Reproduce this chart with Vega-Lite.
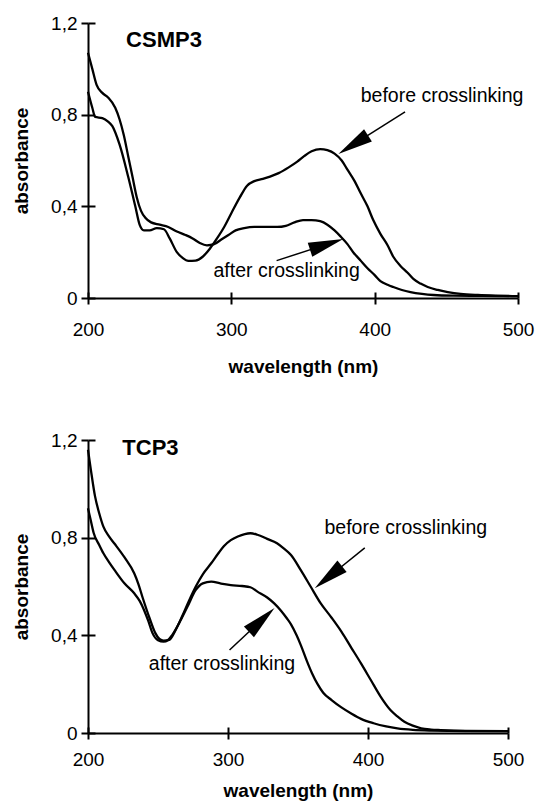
{
  "$schema": "https://vega.github.io/schema/vega-lite/v6.json",
  "padding": {"left": 12, "top": 14, "right": 2, "bottom": 5},
  "config": {
    "view": {"stroke": null},
    "font": "Liberation Sans",
    "axis": {"grid": false, "domainColor": "black", "tickColor": "black", "labelColor": "black", "titleColor": "black", "labelFont": "Liberation Sans", "titleFont": "Liberation Sans", "labelFontSize": 19, "titleFontSize": 19, "titleFontWeight": "bold", "domainWidth": 2, "tickWidth": 2, "labelFlush": false, "labelOverlap": false}
  },
  "spacing": 55,
  "datasets": {
    "curves": [
      {"p":"CSMP3","s":"before","nm":200,"a":0.90},{"p":"CSMP3","s":"before","nm":203,"a":0.83},{"p":"CSMP3","s":"before","nm":205,"a":0.79},{"p":"CSMP3","s":"before","nm":210,"a":0.785},{"p":"CSMP3","s":"before","nm":214,"a":0.77},{"p":"CSMP3","s":"before","nm":217,"a":0.75},{"p":"CSMP3","s":"before","nm":222,"a":0.67},{"p":"CSMP3","s":"before","nm":228,"a":0.53},{"p":"CSMP3","s":"before","nm":233,"a":0.40},{"p":"CSMP3","s":"before","nm":236,"a":0.32},{"p":"CSMP3","s":"before","nm":239,"a":0.295},{"p":"CSMP3","s":"before","nm":243,"a":0.295},{"p":"CSMP3","s":"before","nm":248,"a":0.305},{"p":"CSMP3","s":"before","nm":253,"a":0.30},{"p":"CSMP3","s":"before","nm":257,"a":0.26},{"p":"CSMP3","s":"before","nm":262,"a":0.20},{"p":"CSMP3","s":"before","nm":266,"a":0.175},{"p":"CSMP3","s":"before","nm":270,"a":0.162},{"p":"CSMP3","s":"before","nm":275,"a":0.163},{"p":"CSMP3","s":"before","nm":280,"a":0.18},{"p":"CSMP3","s":"before","nm":285,"a":0.215},{"p":"CSMP3","s":"before","nm":290,"a":0.26},{"p":"CSMP3","s":"before","nm":295,"a":0.31},{"p":"CSMP3","s":"before","nm":300,"a":0.37},{"p":"CSMP3","s":"before","nm":306,"a":0.44},{"p":"CSMP3","s":"before","nm":311,"a":0.49},{"p":"CSMP3","s":"before","nm":316,"a":0.51},{"p":"CSMP3","s":"before","nm":322,"a":0.52},{"p":"CSMP3","s":"before","nm":327,"a":0.53},{"p":"CSMP3","s":"before","nm":333,"a":0.545},{"p":"CSMP3","s":"before","nm":340,"a":0.57},{"p":"CSMP3","s":"before","nm":346,"a":0.595},{"p":"CSMP3","s":"before","nm":351,"a":0.62},{"p":"CSMP3","s":"before","nm":356,"a":0.64},{"p":"CSMP3","s":"before","nm":362,"a":0.65},{"p":"CSMP3","s":"before","nm":367,"a":0.645},{"p":"CSMP3","s":"before","nm":372,"a":0.63},{"p":"CSMP3","s":"before","nm":377,"a":0.60},{"p":"CSMP3","s":"before","nm":381,"a":0.56},{"p":"CSMP3","s":"before","nm":386,"a":0.51},{"p":"CSMP3","s":"before","nm":390,"a":0.46},{"p":"CSMP3","s":"before","nm":395,"a":0.40},{"p":"CSMP3","s":"before","nm":399,"a":0.34},{"p":"CSMP3","s":"before","nm":404,"a":0.28},{"p":"CSMP3","s":"before","nm":409,"a":0.23},{"p":"CSMP3","s":"before","nm":413,"a":0.18},{"p":"CSMP3","s":"before","nm":418,"a":0.14},{"p":"CSMP3","s":"before","nm":423,"a":0.11},{"p":"CSMP3","s":"before","nm":427,"a":0.083},{"p":"CSMP3","s":"before","nm":432,"a":0.063},{"p":"CSMP3","s":"before","nm":437,"a":0.048},{"p":"CSMP3","s":"before","nm":444,"a":0.035},{"p":"CSMP3","s":"before","nm":451,"a":0.026},{"p":"CSMP3","s":"before","nm":460,"a":0.018},{"p":"CSMP3","s":"before","nm":472,"a":0.013},{"p":"CSMP3","s":"before","nm":485,"a":0.01},{"p":"CSMP3","s":"before","nm":500,"a":0.008},
      {"p":"CSMP3","s":"after","nm":200,"a":1.07},{"p":"CSMP3","s":"after","nm":203,"a":1.0},{"p":"CSMP3","s":"after","nm":206,"a":0.93},{"p":"CSMP3","s":"after","nm":210,"a":0.895},{"p":"CSMP3","s":"after","nm":214,"a":0.875},{"p":"CSMP3","s":"after","nm":219,"a":0.83},{"p":"CSMP3","s":"after","nm":222,"a":0.78},{"p":"CSMP3","s":"after","nm":225,"a":0.71},{"p":"CSMP3","s":"after","nm":228,"a":0.62},{"p":"CSMP3","s":"after","nm":231,"a":0.53},{"p":"CSMP3","s":"after","nm":234,"a":0.44},{"p":"CSMP3","s":"after","nm":237,"a":0.38},{"p":"CSMP3","s":"after","nm":240,"a":0.35},{"p":"CSMP3","s":"after","nm":244,"a":0.33},{"p":"CSMP3","s":"after","nm":250,"a":0.32},{"p":"CSMP3","s":"after","nm":256,"a":0.31},{"p":"CSMP3","s":"after","nm":262,"a":0.29},{"p":"CSMP3","s":"after","nm":268,"a":0.275},{"p":"CSMP3","s":"after","nm":273,"a":0.26},{"p":"CSMP3","s":"after","nm":278,"a":0.24},{"p":"CSMP3","s":"after","nm":283,"a":0.23},{"p":"CSMP3","s":"after","nm":288,"a":0.235},{"p":"CSMP3","s":"after","nm":293,"a":0.255},{"p":"CSMP3","s":"after","nm":298,"a":0.275},{"p":"CSMP3","s":"after","nm":303,"a":0.295},{"p":"CSMP3","s":"after","nm":309,"a":0.305},{"p":"CSMP3","s":"after","nm":316,"a":0.31},{"p":"CSMP3","s":"after","nm":325,"a":0.31},{"p":"CSMP3","s":"after","nm":332,"a":0.31},{"p":"CSMP3","s":"after","nm":338,"a":0.315},{"p":"CSMP3","s":"after","nm":344,"a":0.33},{"p":"CSMP3","s":"after","nm":350,"a":0.34},{"p":"CSMP3","s":"after","nm":356,"a":0.34},{"p":"CSMP3","s":"after","nm":362,"a":0.335},{"p":"CSMP3","s":"after","nm":367,"a":0.32},{"p":"CSMP3","s":"after","nm":372,"a":0.295},{"p":"CSMP3","s":"after","nm":376,"a":0.27},{"p":"CSMP3","s":"after","nm":381,"a":0.235},{"p":"CSMP3","s":"after","nm":385,"a":0.20},{"p":"CSMP3","s":"after","nm":390,"a":0.165},{"p":"CSMP3","s":"after","nm":395,"a":0.13},{"p":"CSMP3","s":"after","nm":400,"a":0.10},{"p":"CSMP3","s":"after","nm":404,"a":0.074},{"p":"CSMP3","s":"after","nm":409,"a":0.058},{"p":"CSMP3","s":"after","nm":413,"a":0.048},{"p":"CSMP3","s":"after","nm":419,"a":0.035},{"p":"CSMP3","s":"after","nm":425,"a":0.026},{"p":"CSMP3","s":"after","nm":433,"a":0.018},{"p":"CSMP3","s":"after","nm":441,"a":0.013},{"p":"CSMP3","s":"after","nm":455,"a":0.01},{"p":"CSMP3","s":"after","nm":475,"a":0.009},{"p":"CSMP3","s":"after","nm":500,"a":0.008},
      {"p":"TCP3","s":"before","nm":200,"a":1.16},{"p":"TCP3","s":"before","nm":202,"a":1.08},{"p":"TCP3","s":"before","nm":205,"a":0.97},{"p":"TCP3","s":"before","nm":208,"a":0.9},{"p":"TCP3","s":"before","nm":211,"a":0.845},{"p":"TCP3","s":"before","nm":215,"a":0.805},{"p":"TCP3","s":"before","nm":219,"a":0.775},{"p":"TCP3","s":"before","nm":226,"a":0.72},{"p":"TCP3","s":"before","nm":233,"a":0.654},{"p":"TCP3","s":"before","nm":236,"a":0.61},{"p":"TCP3","s":"before","nm":239,"a":0.555},{"p":"TCP3","s":"before","nm":244,"a":0.47},{"p":"TCP3","s":"before","nm":248,"a":0.41},{"p":"TCP3","s":"before","nm":251,"a":0.385},{"p":"TCP3","s":"before","nm":254,"a":0.378},{"p":"TCP3","s":"before","nm":258,"a":0.381},{"p":"TCP3","s":"before","nm":262,"a":0.415},{"p":"TCP3","s":"before","nm":267,"a":0.475},{"p":"TCP3","s":"before","nm":272,"a":0.54},{"p":"TCP3","s":"before","nm":277,"a":0.60},{"p":"TCP3","s":"before","nm":282,"a":0.65},{"p":"TCP3","s":"before","nm":288,"a":0.695},{"p":"TCP3","s":"before","nm":293,"a":0.735},{"p":"TCP3","s":"before","nm":297,"a":0.765},{"p":"TCP3","s":"before","nm":302,"a":0.79},{"p":"TCP3","s":"before","nm":307,"a":0.805},{"p":"TCP3","s":"before","nm":312,"a":0.815},{"p":"TCP3","s":"before","nm":316,"a":0.818},{"p":"TCP3","s":"before","nm":321,"a":0.812},{"p":"TCP3","s":"before","nm":328,"a":0.795},{"p":"TCP3","s":"before","nm":335,"a":0.777},{"p":"TCP3","s":"before","nm":340,"a":0.755},{"p":"TCP3","s":"before","nm":345,"a":0.729},{"p":"TCP3","s":"before","nm":352,"a":0.667},{"p":"TCP3","s":"before","nm":359,"a":0.60},{"p":"TCP3","s":"before","nm":366,"a":0.533},{"p":"TCP3","s":"before","nm":374,"a":0.472},{"p":"TCP3","s":"before","nm":381,"a":0.415},{"p":"TCP3","s":"before","nm":388,"a":0.35},{"p":"TCP3","s":"before","nm":395,"a":0.285},{"p":"TCP3","s":"before","nm":402,"a":0.217},{"p":"TCP3","s":"before","nm":409,"a":0.149},{"p":"TCP3","s":"before","nm":416,"a":0.094},{"p":"TCP3","s":"before","nm":421,"a":0.068},{"p":"TCP3","s":"before","nm":426,"a":0.046},{"p":"TCP3","s":"before","nm":432,"a":0.03},{"p":"TCP3","s":"before","nm":438,"a":0.019},{"p":"TCP3","s":"before","nm":445,"a":0.014},{"p":"TCP3","s":"before","nm":452,"a":0.012},{"p":"TCP3","s":"before","nm":470,"a":0.009},{"p":"TCP3","s":"before","nm":500,"a":0.008},
      {"p":"TCP3","s":"after","nm":200,"a":0.92},{"p":"TCP3","s":"after","nm":202,"a":0.87},{"p":"TCP3","s":"after","nm":204,"a":0.82},{"p":"TCP3","s":"after","nm":208,"a":0.77},{"p":"TCP3","s":"after","nm":211,"a":0.736},{"p":"TCP3","s":"after","nm":215,"a":0.70},{"p":"TCP3","s":"after","nm":219,"a":0.667},{"p":"TCP3","s":"after","nm":226,"a":0.613},{"p":"TCP3","s":"after","nm":233,"a":0.572},{"p":"TCP3","s":"after","nm":237,"a":0.54},{"p":"TCP3","s":"after","nm":240,"a":0.504},{"p":"TCP3","s":"after","nm":243,"a":0.46},{"p":"TCP3","s":"after","nm":246,"a":0.41},{"p":"TCP3","s":"after","nm":250,"a":0.38},{"p":"TCP3","s":"after","nm":254,"a":0.374},{"p":"TCP3","s":"after","nm":257,"a":0.38},{"p":"TCP3","s":"after","nm":260,"a":0.40},{"p":"TCP3","s":"after","nm":265,"a":0.449},{"p":"TCP3","s":"after","nm":271,"a":0.517},{"p":"TCP3","s":"after","nm":277,"a":0.586},{"p":"TCP3","s":"after","nm":282,"a":0.613},{"p":"TCP3","s":"after","nm":288,"a":0.62},{"p":"TCP3","s":"after","nm":295,"a":0.612},{"p":"TCP3","s":"after","nm":302,"a":0.606},{"p":"TCP3","s":"after","nm":310,"a":0.602},{"p":"TCP3","s":"after","nm":316,"a":0.597},{"p":"TCP3","s":"after","nm":321,"a":0.579},{"p":"TCP3","s":"after","nm":328,"a":0.555},{"p":"TCP3","s":"after","nm":333,"a":0.531},{"p":"TCP3","s":"after","nm":338,"a":0.50},{"p":"TCP3","s":"after","nm":342,"a":0.47},{"p":"TCP3","s":"after","nm":345,"a":0.445},{"p":"TCP3","s":"after","nm":349,"a":0.40},{"p":"TCP3","s":"after","nm":352,"a":0.36},{"p":"TCP3","s":"after","nm":356,"a":0.30},{"p":"TCP3","s":"after","nm":360,"a":0.245},{"p":"TCP3","s":"after","nm":364,"a":0.20},{"p":"TCP3","s":"after","nm":368,"a":0.165},{"p":"TCP3","s":"after","nm":374,"a":0.135},{"p":"TCP3","s":"after","nm":381,"a":0.105},{"p":"TCP3","s":"after","nm":388,"a":0.08},{"p":"TCP3","s":"after","nm":395,"a":0.058},{"p":"TCP3","s":"after","nm":404,"a":0.04},{"p":"TCP3","s":"after","nm":413,"a":0.027},{"p":"TCP3","s":"after","nm":421,"a":0.019},{"p":"TCP3","s":"after","nm":432,"a":0.013},{"p":"TCP3","s":"after","nm":445,"a":0.01},{"p":"TCP3","s":"after","nm":470,"a":0.008},{"p":"TCP3","s":"after","nm":500,"a":0.008}
    ],
    "labels": [
      {"p":"CSMP3","kind":"title","text":"CSMP3","nm":253,"a":1.128},
      {"p":"CSMP3","kind":"note","text":"before crosslinking","nm":447,"a":0.881},
      {"p":"CSMP3","kind":"note","text":"after crosslinking","nm":338.6,"a":0.118},
      {"p":"TCP3","kind":"title","text":"TCP3","nm":244.6,"a":1.167},
      {"p":"TCP3","kind":"note","text":"before crosslinking","nm":427,"a":0.839},
      {"p":"TCP3","kind":"note","text":"after crosslinking","nm":295.7,"a":0.283}
    ],
    "arrows": [
      {"p":"CSMP3","nm":421.2,"a":0.812,"nm2":385.0,"a2":0.669,"angle":237.8},
      {"p":"CSMP3","nm":331.6,"a":0.163,"nm2":366.5,"a2":0.234,"angle":72.0},
      {"p":"TCP3","nm":397.7,"a":0.758,"nm2":371.7,"a2":0.638,"angle":231.3},
      {"p":"TCP3","nm":301.1,"a":0.340,"nm2":324.1,"a2":0.463,"angle":47.0}
    ]
  },
  "vconcat": [
    {
      "width": 430, "height": 275,
      "resolve": {"axis": {"x": "independent", "y": "independent"}},
      "layer": [
        {
          "data": {"name": "curves"},
          "transform": [{"filter": "datum.p === 'CSMP3'"}],
          "mark": {"type": "line", "color": "black", "strokeWidth": 2.3, "interpolate": "monotone"},
          "encoding": {
            "x": {"field": "nm", "type": "quantitative", "scale": {"domain": [200, 500], "nice": false}, "axis": {"values": [200, 300, 400, 500], "title": "wavelength (nm)", "tickSize": 6, "labelPadding": 16, "titlePadding": 18}},
            "y": {"field": "a", "type": "quantitative", "scale": {"domain": [0, 1.2], "nice": false}, "axis": {"values": [0, 0.4, 0.8, 1.2], "labelExpr": "datum.value == 0 ? '0' : replace(format(datum.value, '.1f'), '.', ',')", "title": "absorbance", "tickSize": 7, "labelPadding": 4, "titlePadding": 19}},
            "detail": {"field": "s"}
          }
        },
        {
          "data": {"name": "arrows"},
          "transform": [{"filter": "datum.p === 'CSMP3'"}],
          "mark": {"type": "rule", "color": "black", "strokeWidth": 1.5},
          "encoding": {
            "x": {"field": "nm", "type": "quantitative", "axis": {"orient": "bottom", "offset": -6, "domain": false, "labels": false, "title": null, "tickSize": 6, "values": [200, 300, 400, 500]}},
            "y": {"field": "a", "type": "quantitative", "axis": {"orient": "left", "offset": -7, "domain": false, "labels": false, "title": null, "tickSize": 7, "values": [0, 0.4, 0.8, 1.2]}},
            "x2": {"field": "nm2"},
            "y2": {"field": "a2"}
          }
        },
        {
          "data": {"name": "arrows"},
          "transform": [{"filter": "datum.p === 'CSMP3'"}],
          "mark": {"type": "point", "shape": "M0,-1L0.42,1L-0.42,1Z", "filled": true, "color": "black", "opacity": 1, "size": 1225},
          "encoding": {
            "x": {"field": "nm2", "type": "quantitative", "axis": null},
            "y": {"field": "a2", "type": "quantitative", "axis": null},
            "angle": {"field": "angle", "type": "quantitative", "scale": null}
          }
        },
        {
          "data": {"name": "labels"},
          "transform": [{"filter": "datum.p === 'CSMP3' && datum.kind === 'note'"}],
          "mark": {"type": "text", "fontSize": 19.5, "color": "black", "align": "center", "baseline": "middle"},
          "encoding": {
            "x": {"field": "nm", "type": "quantitative", "axis": null},
            "y": {"field": "a", "type": "quantitative", "axis": null},
            "text": {"field": "text"}
          }
        },
        {
          "data": {"name": "labels"},
          "transform": [{"filter": "datum.p === 'CSMP3' && datum.kind === 'title'"}],
          "mark": {"type": "text", "fontSize": 22, "fontWeight": "bold", "color": "black", "align": "center", "baseline": "middle"},
          "encoding": {
            "x": {"field": "nm", "type": "quantitative", "axis": null},
            "y": {"field": "a", "type": "quantitative", "axis": null},
            "text": {"field": "text"}
          }
        }
      ]
    },
    {
      "width": 420, "height": 293,
      "resolve": {"axis": {"x": "independent", "y": "independent"}},
      "layer": [
        {
          "data": {"name": "curves"},
          "transform": [{"filter": "datum.p === 'TCP3'"}],
          "mark": {"type": "line", "color": "black", "strokeWidth": 2.3, "interpolate": "monotone"},
          "encoding": {
            "x": {"field": "nm", "type": "quantitative", "scale": {"domain": [200, 500], "nice": false}, "axis": {"values": [200, 300, 400, 500], "title": "wavelength (nm)", "tickSize": 6, "labelPadding": 11, "titlePadding": 12}},
            "y": {"field": "a", "type": "quantitative", "scale": {"domain": [0, 1.2], "nice": false}, "axis": {"values": [0, 0.4, 0.8, 1.2], "labelExpr": "datum.value == 0 ? '0' : replace(format(datum.value, '.1f'), '.', ',')", "title": "absorbance", "tickSize": 7, "labelPadding": 4, "titlePadding": 19}},
            "detail": {"field": "s"}
          }
        },
        {
          "data": {"name": "arrows"},
          "transform": [{"filter": "datum.p === 'TCP3'"}],
          "mark": {"type": "rule", "color": "black", "strokeWidth": 1.5},
          "encoding": {
            "x": {"field": "nm", "type": "quantitative", "axis": {"orient": "bottom", "offset": -6, "domain": false, "labels": false, "title": null, "tickSize": 6, "values": [200, 300, 400, 500]}},
            "y": {"field": "a", "type": "quantitative", "axis": {"orient": "left", "offset": -7, "domain": false, "labels": false, "title": null, "tickSize": 7, "values": [0, 0.4, 0.8, 1.2]}},
            "x2": {"field": "nm2"},
            "y2": {"field": "a2"}
          }
        },
        {
          "data": {"name": "arrows"},
          "transform": [{"filter": "datum.p === 'TCP3'"}],
          "mark": {"type": "point", "shape": "M0,-1L0.42,1L-0.42,1Z", "filled": true, "color": "black", "opacity": 1, "size": 1225},
          "encoding": {
            "x": {"field": "nm2", "type": "quantitative", "axis": null},
            "y": {"field": "a2", "type": "quantitative", "axis": null},
            "angle": {"field": "angle", "type": "quantitative", "scale": null}
          }
        },
        {
          "data": {"name": "labels"},
          "transform": [{"filter": "datum.p === 'TCP3' && datum.kind === 'note'"}],
          "mark": {"type": "text", "fontSize": 19.5, "color": "black", "align": "center", "baseline": "middle"},
          "encoding": {
            "x": {"field": "nm", "type": "quantitative", "axis": null},
            "y": {"field": "a", "type": "quantitative", "axis": null},
            "text": {"field": "text"}
          }
        },
        {
          "data": {"name": "labels"},
          "transform": [{"filter": "datum.p === 'TCP3' && datum.kind === 'title'"}],
          "mark": {"type": "text", "fontSize": 22, "fontWeight": "bold", "color": "black", "align": "center", "baseline": "middle"},
          "encoding": {
            "x": {"field": "nm", "type": "quantitative", "axis": null},
            "y": {"field": "a", "type": "quantitative", "axis": null},
            "text": {"field": "text"}
          }
        }
      ]
    }
  ]
}
